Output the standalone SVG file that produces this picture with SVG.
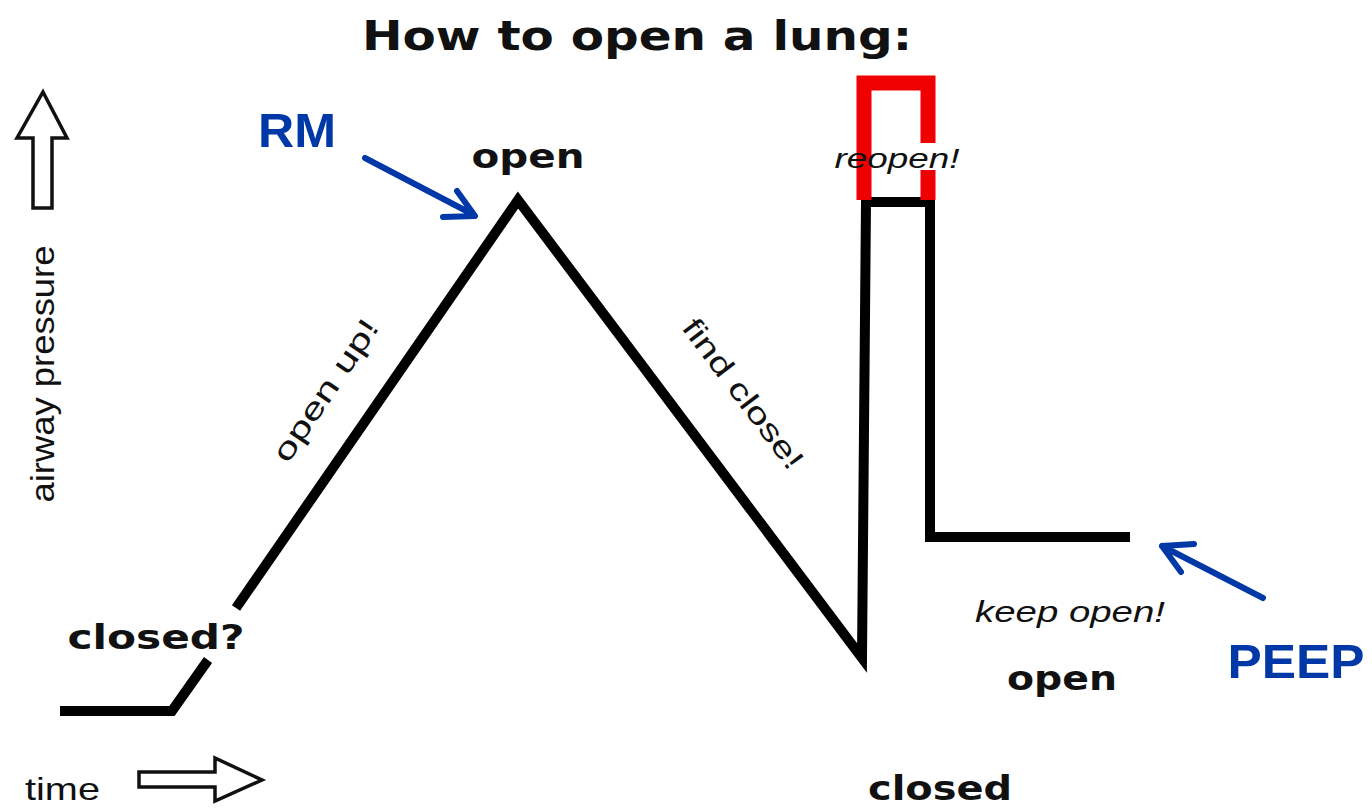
<svg xmlns="http://www.w3.org/2000/svg" width="1372" height="809" viewBox="0 0 1372 809">
<style>
.t{font-family:"Liberation Sans",Arial,sans-serif;fill:#111}
.b{font-family:"DejaVu Sans","Liberation Sans",sans-serif;font-weight:bold}
.blue{font-family:"Liberation Sans",Arial,sans-serif;font-weight:bold;fill:#0038a8}
.curve{fill:none;stroke:#000;stroke-width:10;stroke-linejoin:miter}
.red{fill:none;stroke:#f00000;stroke-width:15}
.outline{fill:#fff;stroke:#111;stroke-width:3.5;stroke-linejoin:miter}
.ba{fill:none;stroke:#0038a8;stroke-width:6;stroke-linecap:round;stroke-linejoin:round}
</style>
<rect width="1372" height="809" fill="#fff"/>
<g id="title"><text class="t b" x="637" y="50" font-size="40" text-anchor="middle" textLength="550" lengthAdjust="spacingAndGlyphs">How to open a lung:</text></g>
<g id="axis-y">
<path class="outline" d="M43,92 L67,138 L52,138 L52,208 L33,208 L33,138 L17,138 Z"/>
<text class="t" transform="translate(54,374) rotate(-90)" font-size="34" text-anchor="middle" textLength="257" lengthAdjust="spacingAndGlyphs">airway pressure</text>
</g>
<g id="axis-x">
<text class="t" x="25" y="800" font-size="32" textLength="75" lengthAdjust="spacingAndGlyphs">time</text>
<path class="outline" d="M139,772 L215,772 L215,758 L262,780 L215,801 L215,787 L139,787 Z"/>
</g>
<g id="connectors">
<path class="curve" d="M60,711 L172,711 L208,660" stroke-width="15"/>
<path class="curve" d="M236,608 L518,200 L862,658 L866,202 L930,202 L930,537 L1130,537"/>
<path class="red" d="M864,200 L864,143 M864,170 L864,83 L928,83 L928,143 M928,170 L928,200"/>
<path class="ba" d="M365,158 L474,215 M457,191 L475,216 L443,217"/>
<path class="ba" d="M1263,598 L1162,546 M1194,544 L1162,546 L1181,572"/>
</g>
<g id="labels">
<text class="t b" x="528" y="168" font-size="34" text-anchor="middle" textLength="113" lengthAdjust="spacingAndGlyphs">open</text>
<text class="t b" x="156" y="649" font-size="34" text-anchor="middle" textLength="177" lengthAdjust="spacingAndGlyphs">closed?</text>
<text class="t" transform="translate(334,396) rotate(-56)" font-size="30" text-anchor="middle" textLength="165" lengthAdjust="spacingAndGlyphs">open up!</text>
<text class="t" transform="translate(735,400) rotate(53)" font-size="30" text-anchor="middle" textLength="180" lengthAdjust="spacingAndGlyphs">find close!</text>
<text class="t" x="897" y="168" font-size="28" font-style="italic" text-anchor="middle" textLength="125" lengthAdjust="spacingAndGlyphs">reopen!</text>
<text class="t" x="1070" y="622" font-size="30" font-style="italic" text-anchor="middle" textLength="190" lengthAdjust="spacingAndGlyphs">keep open!</text>
<text class="t b" x="1062" y="690" font-size="34" text-anchor="middle" textLength="110" lengthAdjust="spacingAndGlyphs">open</text>
<text class="t b" x="940" y="800" font-size="34" text-anchor="middle" textLength="144" lengthAdjust="spacingAndGlyphs">closed</text>
<text class="blue" x="297" y="147" font-size="48" text-anchor="middle" textLength="78" lengthAdjust="spacingAndGlyphs">RM</text>
<text class="blue" x="1296" y="678" font-size="48" text-anchor="middle" textLength="137" lengthAdjust="spacingAndGlyphs">PEEP</text>
</g>
</svg>
